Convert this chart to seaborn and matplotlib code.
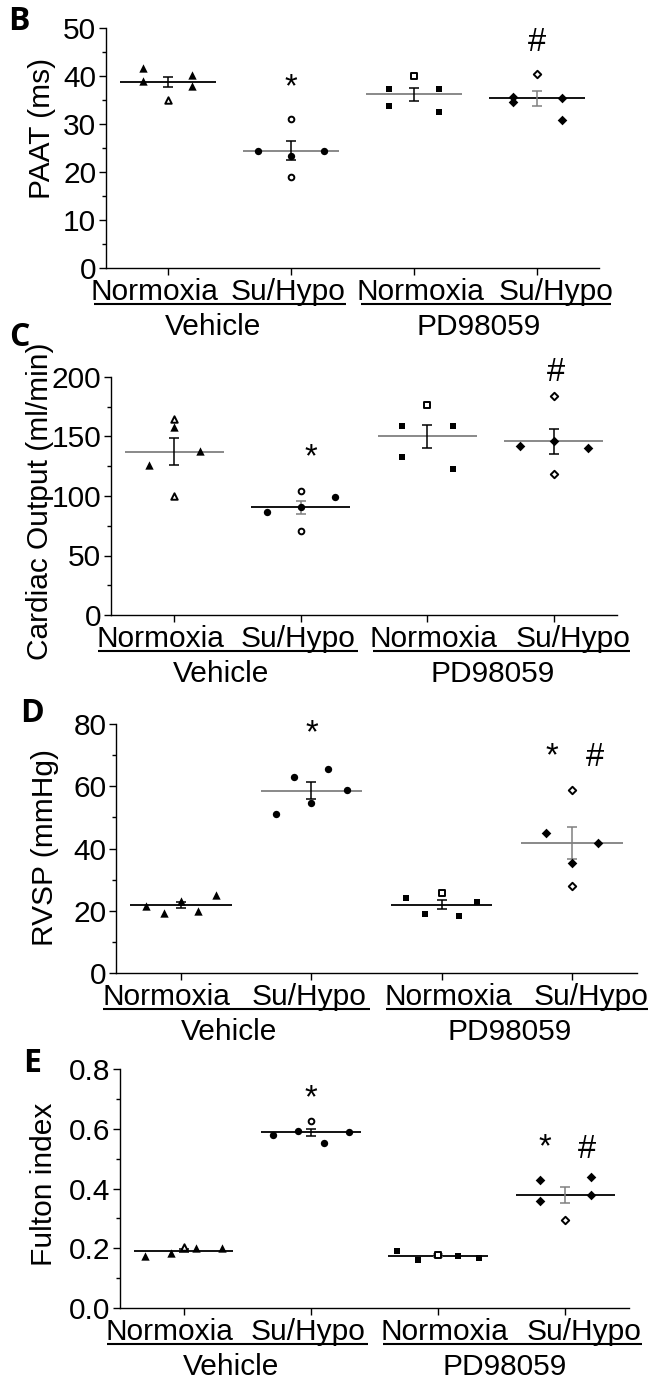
import numpy as np
import pandas as pd
import matplotlib
matplotlib.use("Agg")
import matplotlib.pyplot as plt
import seaborn as sns

# ---- data ----
groups = ["Vehicle Normoxia", "Vehicle Su/Hypo", "PD98059 Normoxia", "PD98059 Su/Hypo"]
tick_names = ["Normoxia", "Su/Hypo", "Normoxia", "Su/Hypo"]
treatments = ["Vehicle", "PD98059"]

paat = [[41.6, 39.0, 34.9, 40.2, 38.0],
        [24.4, 31.1, 23.3, 18.9, 24.4],
        [37.3, 33.8, 40.0, 37.3, 32.4],
        [35.7, 34.5, 40.5, 35.4, 30.8]]
cardiac_output = [[126.4, 164.8, 158.0, 99.9, 137.6],
                  [86.4, 104.3, 90.9, 71.0, 99.3],
                  [159.2, 132.6, 176.8, 159.2, 122.5],
                  [141.8, 183.8, 146.0, 118.9, 140.4]]
rvsp = [[21.5, 19.4, 23.1, 19.9, 25.1],
        [51.0, 63.1, 54.6, 65.4, 58.7],
        [24.1, 18.9, 25.6, 18.4, 22.8],
        [44.9, 58.7, 35.3, 27.9, 41.7]]
fulton = [[0.173, 0.183, 0.205, 0.200, 0.200],
          [0.578, 0.594, 0.627, 0.553, 0.588],
          [0.191, 0.161, 0.179, 0.175, 0.168],
          [0.428, 0.358, 0.293, 0.437, 0.378]]

# which points are drawn hollow (index within group)
paat_open = [[2], [1, 3], [2], [2]]
co_open = [[1, 3], [1, 3], [2], [1, 3]]
rvsp_open = [[], [], [2], [1, 3]]
fulton_open = [[2], [2], [2], [2]]

# significance marks: (x position, y value, symbol)
paat_sig = [(1.0, 37.5, "*"), (3.0, 47.0, "#")]
co_sig = [(1.08, 132, "*"), (3.02, 204, "#")]
rvsp_sig = [(1.0, 77.0, "*"), (2.85, 69.5, "*"), (3.18, 69.1, "#")]
fulton_sig = [(1.0, 0.70, "*"), (2.84, 0.535, "*"), (3.17, 0.532, "#")]

# ---- layout / style ----
W, H = 648, 1382
sns.set_style("ticks")
plt.rcParams["font.family"] = ["Liberation Sans", "DejaVu Sans"]
for key in ["text.color", "axes.labelcolor", "xtick.color", "ytick.color", "axes.edgecolor"]:
    plt.rcParams[key] = "black"

markers = ["^", "o", "s", "D"]
msize = [36, 28, 24, 24]
FS = 21.5

panels = [
    dict(letter="B", vals=paat, opn=paat_open, sig=paat_sig, ylabel="PAAT (ms)",
         ylim=(0, 50), major=10, minor=5, box=(106, 28, 599, 268), letter_xy=(19, 21),
         ylab_xy=(42, 128),
         offs=[[-0.2, -0.2, 0, 0.2, 0.2], [-0.27, 0, 0, 0, 0.27],
               [-0.2, -0.2, 0, 0.2, 0.2], [-0.2, -0.2, 0, 0.2, 0.2]],
         lcol=["k", "0.5", "0.5", "k"], ecol=["k", "k", "k", "0.5"]),
    dict(letter="C", vals=cardiac_output, opn=co_open, sig=co_sig, ylabel="Cardiac Output (ml/min)",
         ylim=(0, 200), major=50, minor=25, box=(111, 377, 617, 615), letter_xy=(19, 338),
         ylab_xy=(40, 501),
         offs=[[-0.2, 0, 0, 0, 0.2], [-0.27, 0, 0, 0, 0.27],
               [-0.2, -0.2, 0, 0.2, 0.2], [-0.27, 0, 0, 0, 0.27]],
         lcol=["0.5", "k", "0.5", "0.5"], ecol=["k", "0.5", "k", "k"]),
    dict(letter="D", vals=rvsp, opn=rvsp_open, sig=rvsp_sig, ylabel="RVSP (mmHg)",
         ylim=(0, 80), major=20, minor=10, box=(116, 724, 637, 973), letter_xy=(32, 714),
         ylab_xy=(45, 848),
         offs=[[-0.27, -0.13, 0, 0.13, 0.27], [-0.27, -0.13, 0, 0.13, 0.27],
               [-0.27, -0.13, 0, 0.13, 0.27], [-0.2, 0, 0, 0, 0.2]],
         lcol=["k", "0.5", "k", "0.5"], ecol=["k", "k", "k", "0.5"]),
    dict(letter="E", vals=fulton, opn=fulton_open, sig=fulton_sig, ylabel="Fulton index",
         ylim=(0, 0.8), major=0.2, minor=0.1, box=(120, 1069, 629, 1308), letter_xy=(32, 1064),
         ylab_xy=(44, 1184),
         offs=[[-0.3, -0.1, 0, 0.1, 0.3], [-0.3, -0.1, 0, 0.1, 0.3],
               [-0.32, -0.16, 0, 0.16, 0.32], [-0.2, -0.2, 0, 0.2, 0.2]],
         lcol=["k", "k", "k", "k"], ecol=["k", "k", "0.5", "0.5"]),
]

fig = plt.figure(figsize=(W / 100, H / 100), dpi=100)

for p in panels:
    l, t, r, b = p["box"]
    ax = fig.add_axes([l / W, 1 - b / H, (r - l) / W, (b - t) / H])
    hpx = b - t

    rows = []
    for gi, g in enumerate(groups):
        for k, v in enumerate(p["vals"][gi]):
            rows.append(dict(group=g, gi=gi, x=gi + p["offs"][gi][k], value=v,
                             hollow=k in p["opn"][gi]))
    df = pd.DataFrame(rows)

    for gi, g in enumerate(groups):
        d = df[df["gi"] == gi]
        sns.scatterplot(data=d[~d["hollow"]], x="x", y="value", marker=markers[gi],
                        s=msize[gi], color="black", linewidth=0, ax=ax, legend=False, zorder=3)
        if d["hollow"].any():
            sns.scatterplot(data=d[d["hollow"]], x="x", y="value", marker=markers[gi],
                            s=msize[gi] * 0.6, facecolor="white", edgecolor="black",
                            linewidth=1.4, ax=ax, legend=False, zorder=3)
        m = d["value"].mean()
        se = d["value"].std(ddof=1) / np.sqrt(len(d))
        ax.hlines(m, gi - 0.39, gi + 0.39, color=p["lcol"][gi], lw=1.3, zorder=2)
        ax.errorbar(gi, m, yerr=se, fmt="none", ecolor=p["ecol"][gi], elinewidth=1.1,
                    capsize=3.5, capthick=1.1, zorder=2)

    for xs, ys, sym in p["sig"]:
        ax.text(xs, ys, sym, ha="center", va="center", fontsize=FS + 2, clip_on=False)

    ax.set_xlim(-0.5, 3.5)
    ax.set_ylim(*p["ylim"])
    ax.set_xticks(range(4))
    ax.set_xticklabels([])
    ax.set_yticks(np.arange(0, p["ylim"][1] + 1e-9, p["major"]))
    ax.set_yticks(np.arange(0, p["ylim"][1] + 1e-9, p["minor"]), minor=True)
    if p["letter"] == "E":
        ax.set_yticklabels([f"{v:.1f}" for v in np.arange(0, 0.81, 0.2)])
    ax.tick_params(axis="both", which="major", length=5, width=1, labelsize=FS, pad=2)
    ax.tick_params(axis="y", which="minor", length=3, width=1)
    ax.set_xlabel("")
    ax.set_ylabel("")
    for s in ["top", "right"]:
        ax.spines[s].set_visible(False)
    for s in ["left", "bottom"]:
        ax.spines[s].set_linewidth(1.0)

    tr = ax.get_xaxis_transform()
    shifts = [-0.11, -0.02, 0.05, 0.15]
    for gi, name in enumerate(tick_names):
        ax.text(gi + shifts[gi], -32 / hpx, name, transform=tr, ha="center",
                va="baseline", fontsize=FS, clip_on=False)
    for x0, x1 in [(-0.6, 1.45), (1.57, 3.6)]:
        ax.plot([x0, x1], [-36 / hpx, -36 / hpx], transform=tr, color="black",
                lw=1.5, clip_on=False, solid_capstyle="butt")
    for xc, name in zip([0.37, 2.52], treatments):
        ax.text(xc, -67 / hpx, name, transform=tr, ha="center", va="baseline",
                fontsize=FS, clip_on=False)

    yx, yy = p["ylab_xy"]
    fig.text(yx / W, 1 - yy / H, p["ylabel"], rotation=90,
             ha="center", va="center", fontsize=FS)
    lx, ly = p["letter_xy"]
    fig.text(lx / W, 1 - ly / H, p["letter"], ha="center", va="center",
             fontsize=23, fontweight="bold", family=["Open Sans", "DejaVu Sans"])

fig.savefig("out.png", dpi=100)
